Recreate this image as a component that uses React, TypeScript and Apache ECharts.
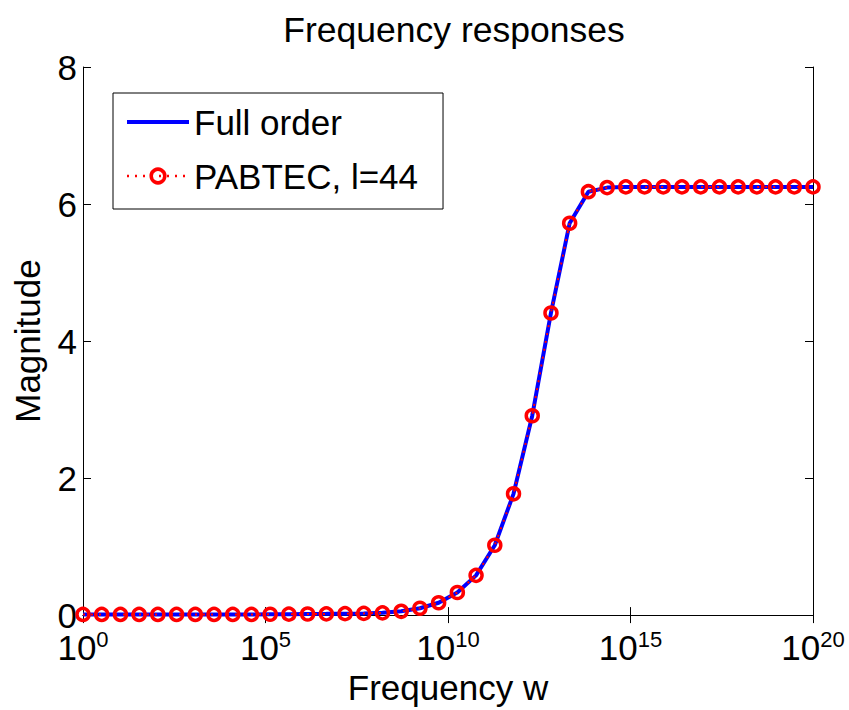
import React, { useEffect, useRef } from "react";
import * as echarts from "echarts";

// log10 of the sampled frequencies (40 samples over 10^0 .. 10^20)
const freqExponents = [
  0, 0.513, 1.026, 1.538, 2.051, 2.564, 3.077, 3.59, 4.103, 4.615,
  5.128, 5.641, 6.154, 6.667, 7.179, 7.692, 8.205, 8.718, 9.231, 9.744,
  10.256, 10.769, 11.282, 11.795, 12.308, 12.821, 13.333, 13.846, 14.359, 14.872,
  15.385, 15.897, 16.41, 16.923, 17.436, 17.949, 18.462, 18.974, 19.487, 20,
];

const fullOrderMagnitude = [
  0.01, 0.01, 0.01, 0.01, 0.01, 0.01, 0.01, 0.01, 0.01, 0.01,
  0.012, 0.014, 0.016, 0.018, 0.021, 0.025, 0.033, 0.055, 0.1, 0.18,
  0.33, 0.58, 1.02, 1.77, 2.91, 4.41, 5.72, 6.18, 6.24, 6.25,
  6.25, 6.25, 6.25, 6.25, 6.25, 6.25, 6.25, 6.25, 6.25, 6.25,
];

const pabtecMagnitude = [
  0.01, 0.01, 0.01, 0.01, 0.01, 0.01, 0.01, 0.01, 0.01, 0.01,
  0.012, 0.014, 0.016, 0.018, 0.021, 0.025, 0.033, 0.055, 0.1, 0.18,
  0.33, 0.58, 1.02, 1.77, 2.91, 4.41, 5.72, 6.18, 6.24, 6.25,
  6.25, 6.25, 6.25, 6.25, 6.25, 6.25, 6.25, 6.25, 6.25, 6.25,
];

const seriesNames = ["Full order", "PABTEC, l=44"];
const yMin = 0;
const yMax = 8;
const yInterval = 2;
const xMin = 1;
const xMax = 1e20;

export default function App() {
  const ref = useRef<HTMLDivElement>(null);

  useEffect(() => {
    if (!ref.current) return;
    const chart = echarts.init(ref.current, null, { renderer: "svg" });
    const font = "'Liberation Sans', Arial, Helvetica, sans-serif";
    const freq = freqExponents.map((e) => Math.pow(10, e));
    const toPairs = (ys: number[]) => freq.map((f, i) => [f, ys[i]]);
    const expLabel = (v: number) => {
      const e = Math.round(Math.log10(v));
      return `{b|10}{s|${e}}`;
    };
    const axisLine = { show: true, lineStyle: { color: "#000", width: 1 } };
    const axisTick = { show: true, inside: true, length: 8, lineStyle: { color: "#000", width: 1 } };

    chart.setOption({
      animation: false,
      backgroundColor: "#fff",
      textStyle: { fontFamily: font },
      title: {
        text: "Frequency responses",
        left: 449,
        top: 7,
        textAlign: "center",
        textStyle: { fontSize: 35.5, fontWeight: "normal", color: "#000", fontFamily: font },
      },
      grid: { left: 83, top: 67, width: 730, height: 550 },
      legend: {
        left: 113,
        top: 93,
        orient: "vertical",
        backgroundColor: "#fff",
        borderColor: "#000",
        borderWidth: 1,
        borderRadius: 0,
        padding: [9, 25, 13, 12],
        itemWidth: 62,
        itemHeight: 17,
        itemGap: 14,
        selectedMode: false,
        textStyle: { fontSize: 35, color: "#000", fontFamily: font, lineHeight: 40 },
        data: [
          { name: seriesNames[0], itemStyle: { opacity: 0 }, lineStyle: { width: 4, color: "#0000ff" } },
          {
            name: seriesNames[1],
            itemStyle: { color: "rgba(255,255,255,0)", borderColor: "#ff0000", borderWidth: 3.5 },
            lineStyle: { width: 2.5, color: "#ff0000", type: [2, 6] },
          },
        ],
      },
      xAxis: [
        {
          type: "log",
          logBase: 100000,
          min: xMin,
          max: xMax,
          position: "bottom",
          name: "Frequency w",
          nameLocation: "middle",
          nameGap: 50,
          nameTextStyle: { fontSize: 35, color: "#000", fontFamily: font },
          axisLine,
          axisTick,
          splitLine: { show: false },
          axisLabel: {
            margin: 14,
            color: "#000",
            formatter: expLabel,
            rich: {
              b: { fontSize: 35, color: "#000", fontFamily: font, lineHeight: 36, verticalAlign: "bottom" },
              s: {
                fontSize: 22,
                color: "#000",
                fontFamily: font,
                lineHeight: 22,
                verticalAlign: "bottom",
                padding: [0, 0, 15, 0],
              },
            },
          },
        },
        {
          type: "log",
          logBase: 100000,
          min: xMin,
          max: xMax,
          position: "top",
          axisLine,
          axisTick,
          splitLine: { show: false },
          axisLabel: { show: false },
        },
      ],
      yAxis: [
        {
          type: "value",
          min: yMin,
          max: yMax,
          interval: yInterval,
          position: "left",
          name: "Magnitude",
          nameLocation: "middle",
          nameGap: 38,
          nameRotate: 90,
          nameTextStyle: { fontSize: 35, color: "#000", fontFamily: font },
          axisLine,
          axisTick,
          splitLine: { show: false },
          axisLabel: { fontSize: 35, color: "#000", margin: 6, fontFamily: font },
        },
        {
          type: "value",
          min: yMin,
          max: yMax,
          interval: yInterval,
          position: "right",
          axisLine,
          axisTick,
          splitLine: { show: false },
          axisLabel: { show: false },
        },
      ],
      series: [
        {
          name: seriesNames[0],
          type: "line",
          xAxisIndex: 0,
          yAxisIndex: 0,
          data: toPairs(fullOrderMagnitude),
          symbol: "none",
          showSymbol: false,
          lineStyle: { color: "#0000ff", width: 4 },
          itemStyle: { color: "#0000ff" },
          emphasis: { disabled: true },
          z: 2,
        },
        {
          name: seriesNames[1],
          type: "line",
          xAxisIndex: 0,
          yAxisIndex: 0,
          data: toPairs(pabtecMagnitude),
          symbol: "circle",
          symbolSize: 12,
          showSymbol: true,
          clip: false,
          lineStyle: { color: "#ff0000", width: 2, type: [2, 6] },
          itemStyle: { color: "rgba(255,255,255,0)", borderColor: "#ff0000", borderWidth: 3.5 },
          emphasis: { disabled: true },
          z: 3,
        },
      ],
    });
    return () => chart.dispose();
  }, []);

  return (
    <div
      ref={ref}
      style={{ position: "fixed", left: 0, top: 0, width: 849, height: 710, background: "#fff" }}
    />
  );
}
